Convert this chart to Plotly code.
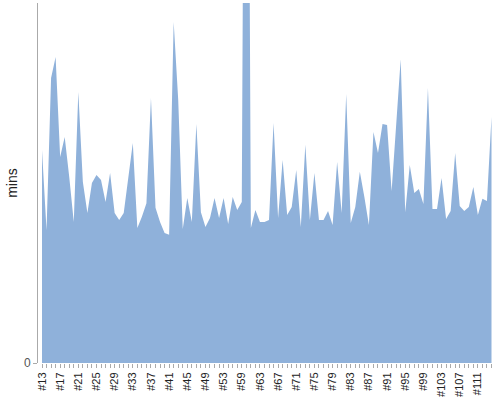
import plotly.graph_objects as go

# build numbers (a few builds between #53 and #59 are missing)
builds = (["#%d" % n for n in range(13, 54)]
          + ["#54", "#56", "#57"]
          + ["#%d" % n for n in range(59, 115)])

# duration per build, in minutes
mins = [
    59.2, 36.9, 79.2, 85.0, 57.2, 62.8, 51.7, 39.2, 75.3, 50.3,
    41.7, 50.0, 52.2, 50.8, 44.7, 52.8, 41.7, 39.7, 41.7, 51.7,
    61.1, 37.5, 40.6, 44.4, 73.6, 43.1, 39.2, 36.1, 35.6, 94.7,
    73.1, 37.2, 45.8, 39.2, 66.4, 41.9, 37.8, 40.3, 45.8, 40.3,
    45.8, 38.6, 46.1, 42.5, 44.7, 300.0, 37.5, 42.5, 39.2, 39.2,
    39.7, 66.7, 40.3, 56.4, 41.1, 43.3, 53.6, 37.8, 60.6, 39.7,
    52.8, 39.7, 39.7, 42.2, 38.3, 55.8, 41.7, 74.7, 38.9, 43.3,
    53.1, 46.1, 38.3, 64.2, 58.3, 66.4, 66.1, 47.8, 66.1, 84.4,
    41.9, 55.0, 47.2, 48.3, 44.2, 76.4, 42.8, 42.8, 51.4, 40.0,
    42.2, 58.3, 43.6, 42.2, 43.3, 48.9, 41.1, 45.6, 45.0, 68.3,
]

y_top = 100  # the axis is cut here, the big spike runs off the top

# only every 4th build gets a label, but every build gets a tick
tick_text = [b if i % 4 == 0 else "" for i, b in enumerate(builds)]

fig = go.Figure()

fig.add_trace(go.Scatter(
    x=builds,
    y=mins,
    mode='lines',
    line=dict(width=0, color='#8FB1DA'),
    fill='tozeroy',
    fillcolor='#8FB1DA',
    hoverinfo='x+y',
    showlegend=False,
))

fig.update_layout(
    width=500,
    height=400,
    margin=dict(l=38, r=6, t=3, b=37),
    paper_bgcolor='white',
    plot_bgcolor='white',
    font=dict(family='Liberation Sans, Arial, sans-serif', size=11, color='#333'),
    xaxis=dict(
        type='category',
        range=[-0.88, len(builds) - 0.45],
        tickmode='array',
        tickvals=builds,
        ticktext=tick_text,
        tickangle=-90,
        ticks='outside',
        ticklen=4,
        tickcolor='#aaa',
        showgrid=False,
        showline=False,
        zeroline=False,
        automargin=False,
        tickfont=dict(size=11, color='#222'),
    ),
    yaxis=dict(
        range=[0, y_top],
        tickmode='array',
        tickvals=[0],
        ticktext=['0'],
        ticks='outside',
        ticklen=4,
        tickcolor='#aaa',
        showgrid=False,
        showline=True,
        linecolor='#aaa',
        linewidth=1,
        zeroline=False,
        automargin=False,
        tickfont=dict(size=12, color='#555'),
        title=dict(text='mins', font=dict(size=14, color='#222'), standoff=3),
    ),
)

# drop the browser's default 8px body margin so the figure sits at 0,0
fig.write_html("out.html", config={'displayModeBar': False},
               post_script="document.body.style.margin='0';")
